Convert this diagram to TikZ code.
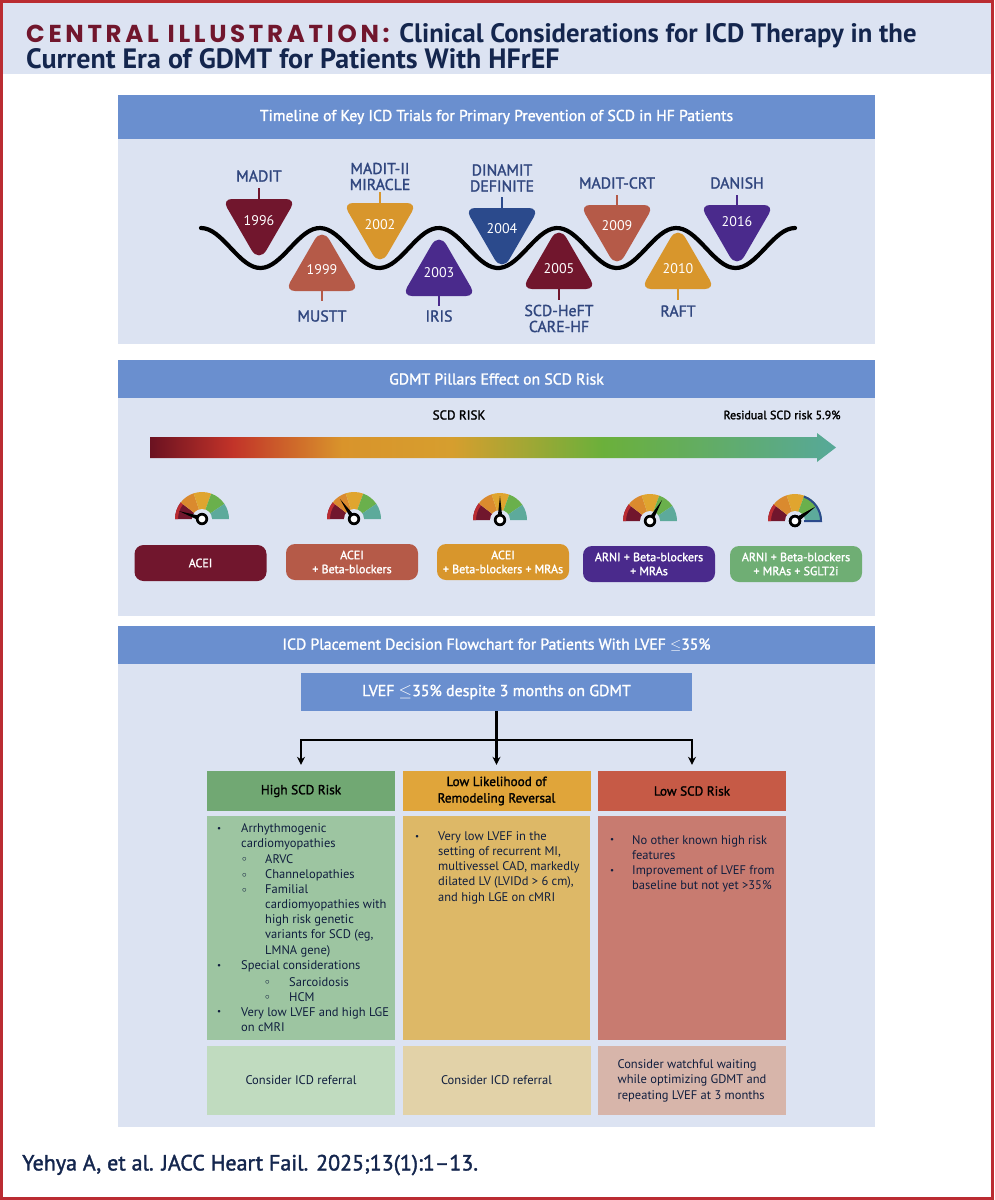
\documentclass[tikz,border=0pt]{standalone}
\usepackage{fontspec}
\setmainfont{PT Sans}
\newfontfamily\wide{Poppins}
\newfontfamily\semi{PT Sans}[FakeBold=1.6]
\usetikzlibrary{arrows.meta}
% palette
\definecolor{frame}{HTML}{BA2C32}
\definecolor{pale}{HTML}{DCE3F2}
\definecolor{band}{HTML}{6A8FCF}
\definecolor{navy}{HTML}{14264E}
\definecolor{ink}{HTML}{31477F}
\definecolor{maroon}{HTML}{71162D}
\definecolor{terra}{HTML}{B55A48}
\definecolor{gold}{HTML}{D8962C}
\definecolor{royal}{HTML}{2B4A8C}
\definecolor{grape}{HTML}{4A2A8C}
\definecolor{leaf}{HTML}{6FAE74}
\definecolor{gA}{HTML}{71A873}
\definecolor{gB}{HTML}{9DC5A1}
\definecolor{gC}{HTML}{C0DBBF}
\definecolor{oA}{HTML}{E0A53A}
\definecolor{oB}{HTML}{DDB867}
\definecolor{oC}{HTML}{E2D2A8}
\definecolor{rA}{HTML}{C65A46}
\definecolor{rB}{HTML}{C87B70}
\definecolor{rC}{HTML}{D7B5AA}
\definecolor{dialO}{HTML}{DA8A2E}
\definecolor{dialY}{HTML}{E0A52F}
\definecolor{dialG}{HTML}{6AB04C}
\definecolor{dialT}{HTML}{5DAA9B}
\pgfdeclarehorizontalshading{scdrisk}{100bp}{
  rgb(0bp)=(0.42,0.07,0.13);
  rgb(25bp)=(0.42,0.07,0.13);
  rgb(31bp)=(0.76,0.20,0.16);
  rgb(39bp)=(0.85,0.58,0.17);
  rgb(47bp)=(0.84,0.62,0.18);
  rgb(58bp)=(0.42,0.69,0.23);
  rgb(75bp)=(0.34,0.66,0.60);
  rgb(100bp)=(0.34,0.66,0.60)}
\newcommand{\fs}[1]{\fontsize{#1}{#1}\selectfont}
\newcommand{\bskip}[1]{\baselineskip #1pt\relax}
% down triangle: x, top, colour, year, year y, stem top
\newcommand{\trid}[6]{
  \fill[#3,rounded corners=10pt] (#1-37,#2) -- (#1+37,#2) [rounded corners=15pt] -- (#1,#2+64) [rounded corners=10pt] -- cycle;
  \draw[#3,line width=1.5pt] (#1,#2+1) -- (#1,#6);
  \node[yr] at (#1,#5) {#4};
}
% up triangle: x, base, colour, year, year y, stem bottom
\newcommand{\triu}[6]{
  \fill[#3,rounded corners=10pt] (#1-37,#2) -- (#1+37,#2) [rounded corners=15pt] -- (#1,#2-64) [rounded corners=10pt] -- cycle;
  \draw[#3,line width=1.5pt] (#1,#2-1) -- (#1,#6);
  \node[yr] at (#1,#5) {#4};
}
\newcommand{\gseg}[5]{\fill[#5] (#1:#3pt) arc[start angle=#1,end angle=#2,radius=#3pt] -- (#2:#4pt) arc[start angle=#2,end angle=#1,radius=#4pt] -- cycle;}
% gauge: x, y, needle angle
\newcommand{\gauge}[3]{
  \begin{scope}[shift={(#1,#2)}]
    \gseg{180}{142}{27}{9}{maroon}
    \gseg{180}{142}{27}{24}{frame}
    \gseg{142}{108}{27}{9}{dialO}
    \gseg{108}{70}{27}{9}{dialY}
    \gseg{70}{34}{27}{9}{dialG}
    \gseg{34}{0}{27}{9}{dialT}
    \fill[pale] (0,0) circle[radius=10pt];
    \fill[black] (#3+90:2.6pt) -- (#3:24pt) -- (#3-90:2.6pt) -- cycle;
    \fill[black] (0,0) circle[radius=6.2pt];
    \fill[white] (0,0) circle[radius=3.4pt];
  \end{scope}
}
\newcommand{\bul}[3]{\node[item] at (#1,#2) {#3};}
\newcommand{\dotb}{{\fs{9}•}}
\newcommand{\ringb}{{\fs{9}$\circ$}}
\begin{document}
\begin{tikzpicture}[x=1pt,y=-1pt,
    yr/.style={text=white,font=\fs{14}},
    lab/.style={text=ink,font=\semi\fs{15.8},align=center,execute at begin node=\bskip{16}},
    title/.style={text=white,font=\semi\fs{15.7},fill=band,inner sep=0pt,minimum width=757pt},
    pill/.style={text=white,font=\semi\fs{12},rounded corners=9pt,inner sep=0pt,minimum width=132pt,minimum height=36pt,align=center,execute at begin node=\bskip{14}},
    head/.style={text=black,font=\semi\fs{13.2},inner sep=0pt,minimum width=188pt,minimum height=40pt,align=center,execute at begin node=\bskip{16.5}},
    foot/.style={text=navy!80!black,font=\fs{12.5},inner sep=0pt,minimum width=188pt,minimum height=69pt,align=center,execute at begin node=\bskip{15.5}},
    item/.style={text=navy!80!black,font=\fs{12.5},inner sep=0pt,anchor=west,align=left,execute at begin node=\bskip{15.25}},
    arr/.style={line width=2.2pt,-{Stealth[length=8pt,width=8pt]}}]
  \useasboundingbox (0,0) rectangle (994,1200);
  % page
  \fill[white] (0,0) rectangle (994,1200);
  \fill[pale] (0,3) rectangle (994,74);
  \draw[frame,line width=3pt] (1.5,1.5) rectangle (992.5,1198.5);
  \node[anchor=west,inner sep=0pt,align=left,font=\bfseries\fs{26.7},text=navy,execute at begin node=\bskip{22}] (main) at (26,46)
    {{\wide\fs{24.5}\color{maroon}\addfontfeature{LetterSpace=15}CENTRAL ILLUSTRATION:}\hspace{3pt} Clinical Considerations for ICD Therapy in the\\{\fs{28}Current Era of GDMT for Patients With HFrEF}};
  \node[anchor=west,inner sep=0pt,font=\semi\fs{22},text=navy] (cite) at (22,1165) {Yehya A, et al. JACC Heart Fail. 2025;13(1):1–13.};

  % panels
  \fill[pale] (118,139) rectangle (875,344);
  \fill[pale] (118,398) rectangle (875,616);
  \fill[pale] (118,664) rectangle (875,1127);
  \node[title,minimum height=44pt] (t1) at (496.5,117) {Timeline of Key ICD Trials for Primary Prevention of SCD in HF Patients};
  \node[title,minimum height=38pt] (t2) at (496.5,379) {GDMT Pillars Effect on SCD Risk};
  \node[title,minimum height=38pt] (t3) at (496.5,645) {ICD Placement Decision Flowchart for Patients With LVEF $\leq$35\%};

  % timeline wave
  \draw[black,line width=4.2pt,line cap=round] plot[domain=201:795,samples=160] (\x,{248-20*cos((\x-201)/59.4*180)});
  \trid{259}{199}{maroon}{1996}{221}{188}
  \trid{380}{203}{gold}{2002}{225}{192}
  \trid{502}{208}{royal}{2004}{229}{197}
  \trid{617}{205}{terra}{2009}{226}{195}
  \trid{737}{205}{grape}{2016}{222}{195}
  \triu{322}{291}{terra}{1999}{270}{301}
  \triu{439}{296}{grape}{2003}{273}{306}
  \triu{559}{289}{maroon}{2005}{269}{300}
  \triu{678}{289}{gold}{2010}{269}{300}
  \node[lab] (l96) at (259,176) {MADIT};
  \node[lab] (l02) at (380,176.5) {MADIT-II\\MIRACLE};
  \node[lab] (l04) at (502,178) {DINAMIT\\DEFINITE};
  \node[lab] (l09) at (617,183) {MADIT-CRT};
  \node[lab] (l16) at (737,183) {DANISH};
  \node[lab] (l99) at (322,316) {MUSTT};
  \node[lab] (l03) at (439,316) {IRIS};
  \node[lab] (l05) at (559,318.5) {SCD-HeFT\\CARE-HF};
  \node[lab] (l10) at (678,311) {RAFT};

  % risk arrow
  \node[font=\semi\fs{13},text=black] (risk) at (459,415) {SCD RISK};
  \node[font=\semi\fs{12},text=black] (resid) at (782,415) {Residual SCD risk 5.9\%};
  \shade[shading=scdrisk] (150,437) -- (817,437) -- (817,433) -- (836,447.5) -- (817,462) -- (817,458) -- (150,458) -- cycle;

  % gauges
  \gauge{202}{519}{161}
  \gauge{354}{519}{125}
  \gauge{500}{520}{90}
  \gauge{650}{521}{60}
  \gauge{795}{521}{35}
  \begin{scope}[shift={(795,521)}]
    \draw[royal,line width=2pt] (70:26pt) arc[start angle=70,end angle=0,radius=26pt] -- (9pt,0);
    \fill[black] (125:2.6pt) -- (35:24pt) -- (-55:2.6pt) -- cycle;
    \fill[black] (0,0) circle[radius=6.2pt];
    \fill[white] (0,0) circle[radius=3.4pt];
  \end{scope}

  % therapy boxes
  \node[pill,fill=maroon] (p1) at (200.5,563) {ACEI};
  \node[pill,fill=terra] (p2) at (352,562) {ACEI\\+ Beta-blockers};
  \node[pill,fill=gold] (p3) at (503,562) {ACEI\\+ Beta-blockers + MRAs};
  \node[pill,fill=grape] (p4) at (649,564) {ARNI + Beta-blockers\\+ MRAs};
  \node[pill,fill=leaf] (p5) at (796,564) {ARNI + Beta-blockers\\+ MRAs + SGLT2i};

  % flowchart
  \node[fill=band,text=white,font=\semi\fs{15.9},inner sep=0pt,minimum width=391pt,minimum height=38pt] (lvef) at (496.5,692) {LVEF $\leq$35\% despite 3 months on GDMT};
  \node[head,fill=gA] (h1) at (301,791) {High SCD Risk};
  \node[head,fill=oA] (h2) at (496.5,791) {Low Likelihood of\\Remodeling Reversal};
  \node[head,fill=rA] (h3) at (692,791) {Low SCD Risk};
  \coordinate (split) at (lvef.south |- 0,740);
  \draw[line width=2.2pt] (lvef.south) -- (split);
  \draw[arr,shorten >=6pt] (split) -| (h1.north);
  \draw[arr,shorten >=6pt] (split) -- (h2.north);
  \draw[arr,shorten >=6pt] (split) -| (h3.north);

  \fill[gB] (207,816) rectangle (395,1040);
  \fill[oB] (403,816) rectangle (590,1040);
  \fill[rB] (598,816) rectangle (786,1040);
  \node[foot,fill=gC] (f1) at (301,1080.5) {Consider ICD referral};
  \node[foot,fill=oC] (f2) at (496.5,1080.5) {Consider ICD referral};
  \node[foot,fill=rC,align=left] (f3) at (692,1080.5) {Consider watchful waiting\\while optimizing GDMT and\\repeating LVEF at 3 months};

  % high risk list
  \bul{217}{829}{\dotb}
  \bul{241}{836.5}{Arrhythmogenic\\cardiomyopathies}
  \bul{242}{859}{\ringb}
  \bul{265}{859}{ARVC}
  \bul{242}{875}{\ringb}
  \bul{265}{875}{Channelopathies}
  \bul{242}{890}{\ringb}
  \bul{265}{920.5}{Familial\\cardiomyopathies with\\high risk genetic\\variants for SCD (eg,\\LMNA gene)}
  \bul{217}{966}{\dotb}
  \bul{241}{966}{Special considerations}
  \bul{265}{982}{\ringb}
  \bul{289}{982}{Sarcoidosis}
  \bul{265}{997}{\ringb}
  \bul{289}{997}{HCM}
  \bul{217}{1012}{\dotb}
  \bul{241}{1019.5}{Very low LVEF and high LGE\\on cMRI}
  % remodeling list
  \bul{415}{837}{\dotb}
  \bul{438}{867.5}{Very low LVEF in the\\setting of recurrent MI,\\multivessel CAD, markedly\\dilated LV (LVIDd > 6 cm),\\and high LGE on cMRI}
  % low risk list
  \bul{610}{840}{\dotb}
  \bul{632}{847.5}{No other known high risk\\features}
  \bul{610}{871}{\dotb}
  \bul{632}{878.5}{Improvement of LVEF from\\baseline but not yet >35\%}
\end{tikzpicture}
\end{document}
